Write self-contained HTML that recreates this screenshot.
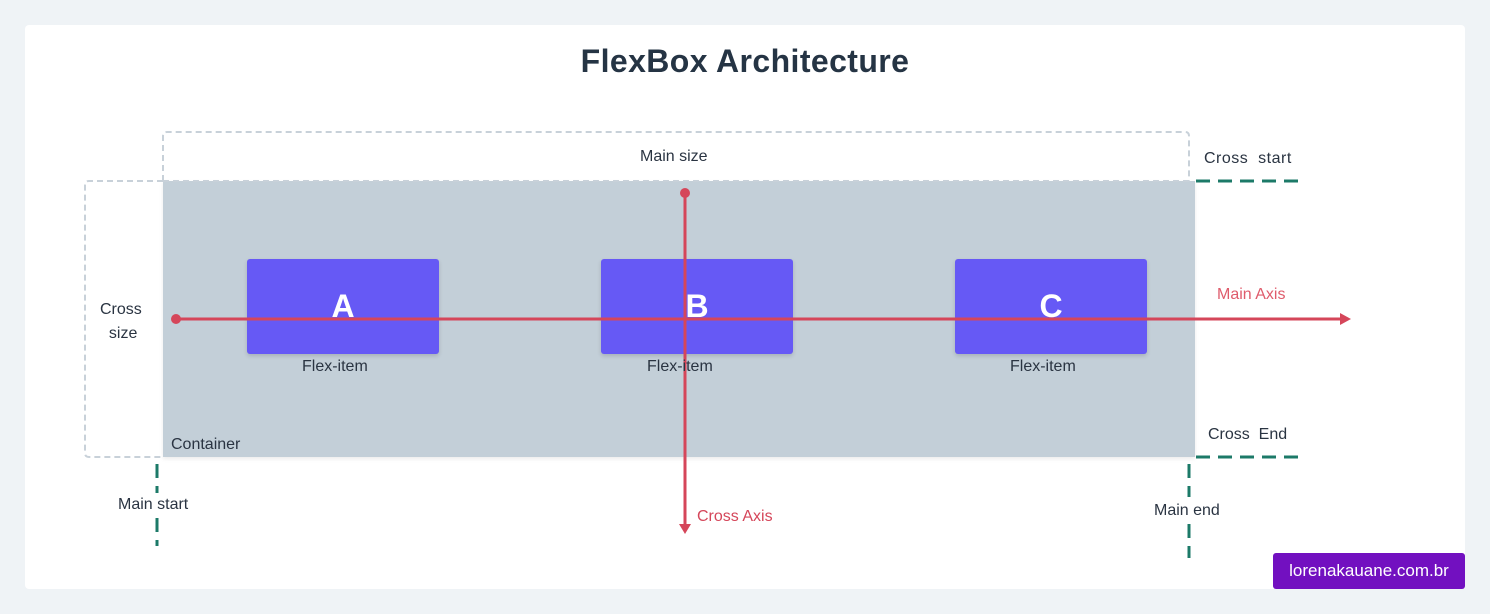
<!DOCTYPE html>
<html><head><style>
body{margin:0;width:1490px;height:614px;background:#eff3f6;font-family:"Liberation Sans","DejaVu Sans",sans-serif;position:relative;overflow:hidden}
.card{position:absolute;left:25px;top:25px;width:1440px;height:564px;background:#fff;border-radius:4px}
.t{position:absolute;color:#2a3442;font-size:16px;white-space:nowrap}
.item{position:absolute;top:259px;width:192px;height:95px;background:#6659f5;border-radius:3px;box-shadow:0 2px 4px rgba(0,0,0,.15);color:#fff;font-weight:bold;font-size:32px;text-align:center;line-height:95px}
</style></head><body>
<div class="card"></div>
<div class="t" style="left:0;width:1490px;text-align:center;top:43px;font-size:32px;font-weight:bold;color:#253444;letter-spacing:0.4px">FlexBox Architecture</div>
<div style="position:absolute;left:163px;top:181px;width:1032px;height:276px;background:#c3cfd8;box-shadow:0 2px 4px rgba(0,0,0,.08)"></div>
<svg width="1490" height="614" style="position:absolute;left:0;top:0">
<path d="M163,181 V136 Q163,132 167,132 H1185 Q1189,132 1189,136 V181" fill="none" stroke="#c8d1d9" stroke-width="2" stroke-dasharray="6,4"/>
<path d="M163,181 H1189" stroke="#c8d1d9" stroke-width="2" stroke-dasharray="6,4"/>
<path d="M163,181 H89 Q85,181 85,185 V453 Q85,457 89,457 H163" fill="none" stroke="#c8d1d9" stroke-width="2" stroke-dasharray="6,4"/>
<g stroke="#1c7a68" stroke-width="3" stroke-dasharray="14,8" fill="none">
<path d="M1196,181 H1300"/><path d="M1196,457 H1300"/>
<path d="M157,464 V493"/><path d="M157,518 V546"/>
<path d="M1189,464 V497"/><path d="M1189,524 V558"/>
</g>
</svg>
<div class="item" style="left:247px">A</div>
<div class="item" style="left:601px">B</div>
<div class="item" style="left:955px">C</div>
<svg width="1490" height="614" style="position:absolute;left:0;top:0">
<g stroke="#d5465a" stroke-width="3" fill="#d5465a">
<line x1="176" y1="319" x2="1342" y2="319"/>
<polygon points="1340,313 1351,319 1340,325" stroke="none"/>
<circle cx="176" cy="319" r="5" stroke="none"/>
<line x1="685" y1="193" x2="685" y2="526"/>
<polygon points="679,524 685,534 691,524" stroke="none"/>
<circle cx="685" cy="193" r="5" stroke="none"/>
</g>
</svg>
<div class="t" style="left:640px;top:148px">Main size</div>
<div class="t" style="left:1204px;top:150px;letter-spacing:0.5px">Cross&nbsp; start</div>
<div class="t" style="left:1208px;top:426px">Cross&nbsp; End</div>
<div class="t" style="left:100px;top:298px;text-align:center;line-height:24px">Cross<br>&nbsp;size</div>
<div class="t" style="left:302px;top:358px">Flex-item</div>
<div class="t" style="left:647px;top:358px">Flex-item</div>
<div class="t" style="left:1010px;top:358px">Flex-item</div>
<div class="t" style="left:171px;top:436px">Container</div>
<div class="t" style="left:118px;top:496px">Main start</div>
<div class="t" style="left:1154px;top:502px">Main end</div>
<div class="t" style="left:1217px;top:286px;color:#df5c6c">Main Axis</div>
<div class="t" style="left:697px;top:508px;color:#d5465a">Cross Axis</div>
<div style="position:absolute;left:1273px;top:553px;width:192px;height:36px;background:#7210c0;border-radius:3px;color:#fff;font-size:17px;text-align:center;line-height:36px">lorenakauane.com.br</div>
</body></html>
